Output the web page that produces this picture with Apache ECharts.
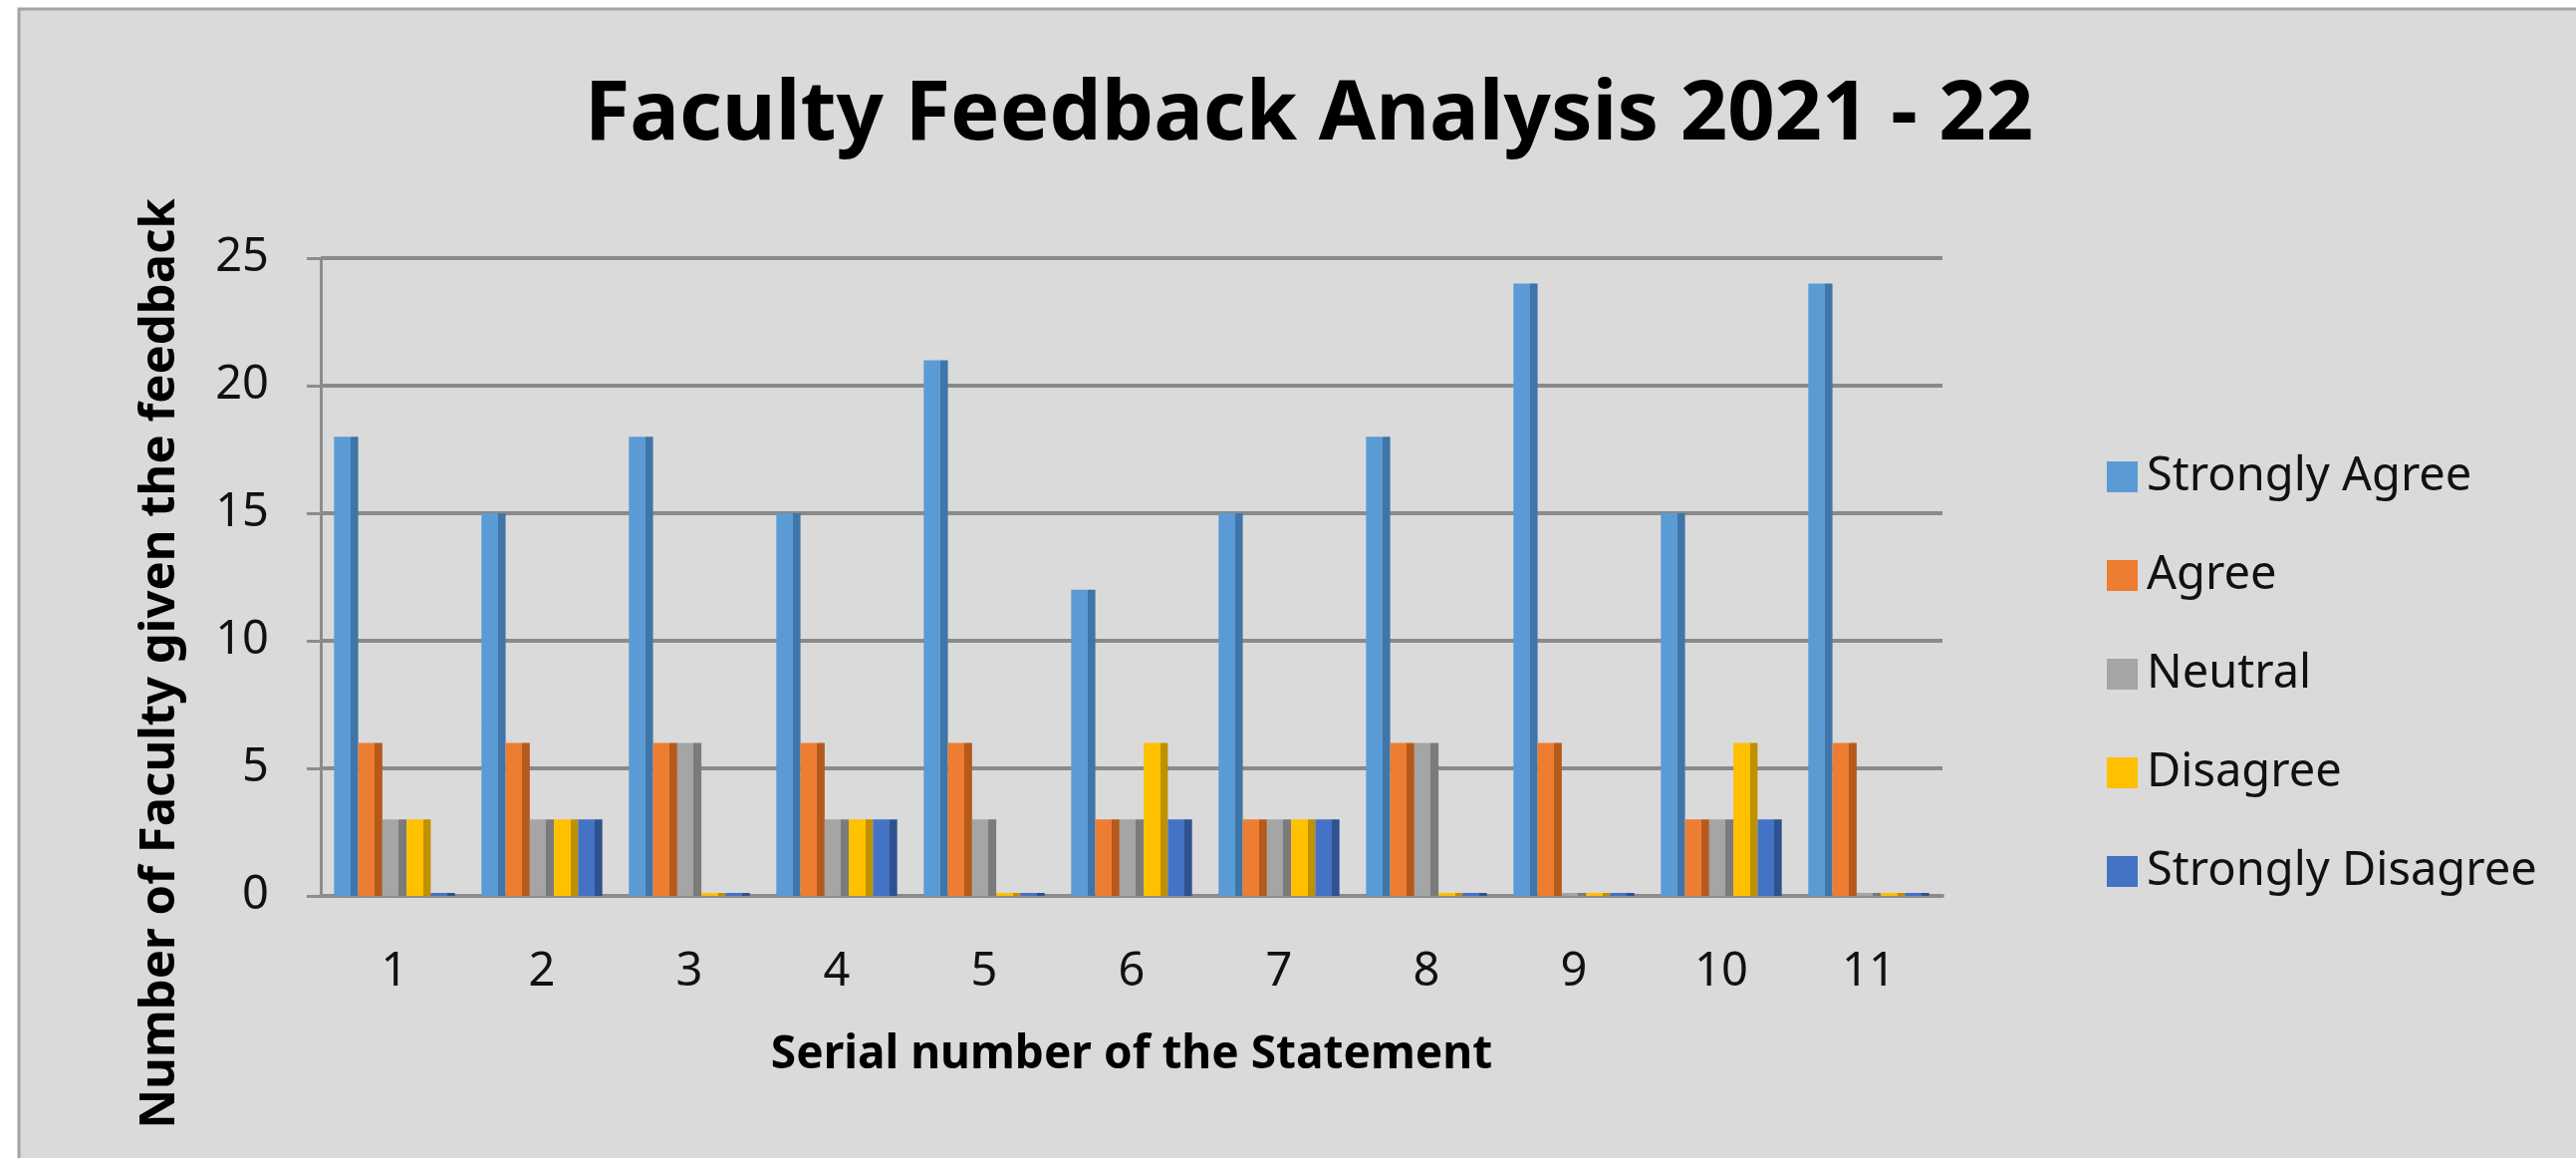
<!DOCTYPE html>
<html>
<head>
<meta charset="utf-8">
<title>Faculty Feedback Analysis 2021 - 22</title>
<script src="https://cdn.jsdelivr.net/npm/echarts@6/dist/echarts.min.js"></script>
<style>
  html, body { margin: 0; padding: 0; background: #ffffff; }
  #main { width: 2586px; height: 1162px; }
</style>
</head>
<body>
<div id="main"></div>
<script>
// statement serial numbers on the x axis
var statements = ['1', '2', '3', '4', '5', '6', '7', '8', '9', '10', '11'];
var responses = ['Strongly Agree', 'Agree', 'Neutral', 'Disagree', 'Strongly Disagree'];

// faculty counts per statement
var stronglyAgree    = [18, 15, 18, 15, 21, 12, 15, 18, 24, 15, 24];
var agree            = [6, 6, 6, 6, 6, 3, 3, 6, 6, 3, 6];
var neutral          = [3, 3, 6, 3, 3, 3, 3, 6, 0, 3, 0];
var disagree         = [3, 3, 0, 3, 0, 6, 3, 0, 0, 6, 0];
var stronglyDisagree = [0, 3, 0, 3, 0, 3, 3, 0, 0, 3, 0];

var yTicks = [0, 5, 10, 15, 20, 25];

var values = [stronglyAgree, agree, neutral, disagree, stronglyDisagree];
var faces = ['#5b9bd5', '#ed7d31', '#a5a5a5', '#ffc000', '#4472c4'];
var sides = ['#3f75a8', '#b55a1c', '#7b7b7b', '#bf9000', '#2f528f'];

var font = '"Noto Sans", "Open Sans", sans-serif';

// front face + darker right side, a flat take on the excel 3d columns
function face(i) {
  return new echarts.graphic.LinearGradient(0, 0, 1, 0, [
    { offset: 0, color: faces[i] },
    { offset: 0.68, color: faces[i] },
    { offset: 0.68, color: sides[i] },
    { offset: 1, color: sides[i] }
  ]);
}

var series = responses.map(function (name, i) {
  return {
    name: name,
    type: 'bar',
    data: values[i],
    barGap: '0%',
    barCategoryGap: '18%',
    barMinHeight: 3,
    itemStyle: { color: face(i) },
    emphasis: { disabled: true }
  };
});

var myChart = echarts.init(document.getElementById('main'));
myChart.setOption({
  animation: false,
  backgroundColor: '#ffffff',
  color: faces,
  graphic: [{
    type: 'rect',
    z: -10,
    shape: { x: 19, y: 9, width: 2580, height: 1170 },
    style: { fill: '#dadada', stroke: '#a3a3a3', lineWidth: 3 }
  }, {
    // y axis title sits lower than the axis middle in the original
    type: 'text',
    x: 161,
    y: 666,
    rotation: Math.PI / 2,
    style: {
      text: 'Number of Faculty given the feedback',
      font: 'bold 49px ' + font,
      fill: '#000000',
      align: 'center',
      verticalAlign: 'middle'
    }
  }],
  title: {
    text: 'Faculty Feedback Analysis 2021 - 22',
    left: 1309,
    top: 70,
    textAlign: 'center',
    textStyle: { fontFamily: font, fontWeight: 'bold', fontSize: 83, color: '#000000' }
  },
  legend: {
    orient: 'vertical',
    left: 2110,
    top: 450,
    itemWidth: 31,
    itemHeight: 31,
    itemGap: 52,
    icon: 'rect',
    data: responses.map(function (name, i) {
      return { name: name, itemStyle: { color: faces[i] } };
    }),
    textStyle: { fontFamily: font, fontSize: 47, color: '#111111', padding: [0, 0, 0, 4] }
  },
  grid: { left: 322, right: 636, top: 259, bottom: 263 },
  xAxis: {
    type: 'category',
    data: statements,
    name: 'Serial number of the Statement',
    nameLocation: 'middle',
    nameGap: 137,
    nameTextStyle: { fontFamily: font, fontWeight: 'bold', fontSize: 46, color: '#000000' },
    axisLine: { lineStyle: { color: '#8c8c8c', width: 4 } },
    axisTick: { show: false },
    axisLabel: { margin: 53, fontFamily: font, fontSize: 47, color: '#111111' }
  },
  yAxis: {
    type: 'value',
    min: 0,
    max: 25,
    interval: 5,
    axisLine: { show: true, lineStyle: { color: '#8c8c8c', width: 3 } },
    axisTick: { show: true, length: 14, lineStyle: { color: '#8c8c8c', width: 3 } },
    axisLabel: {
      margin: 52, fontFamily: font, fontSize: 47, color: '#111111',
      padding: [18, 0, 0, 0],
      formatter: function (v) { return yTicks.indexOf(v) >= 0 ? String(v) : ''; }
    },
    splitLine: { lineStyle: { color: '#8a8a8a', width: 4 } }
  },
  series: series
});
</script>
</body>
</html>
